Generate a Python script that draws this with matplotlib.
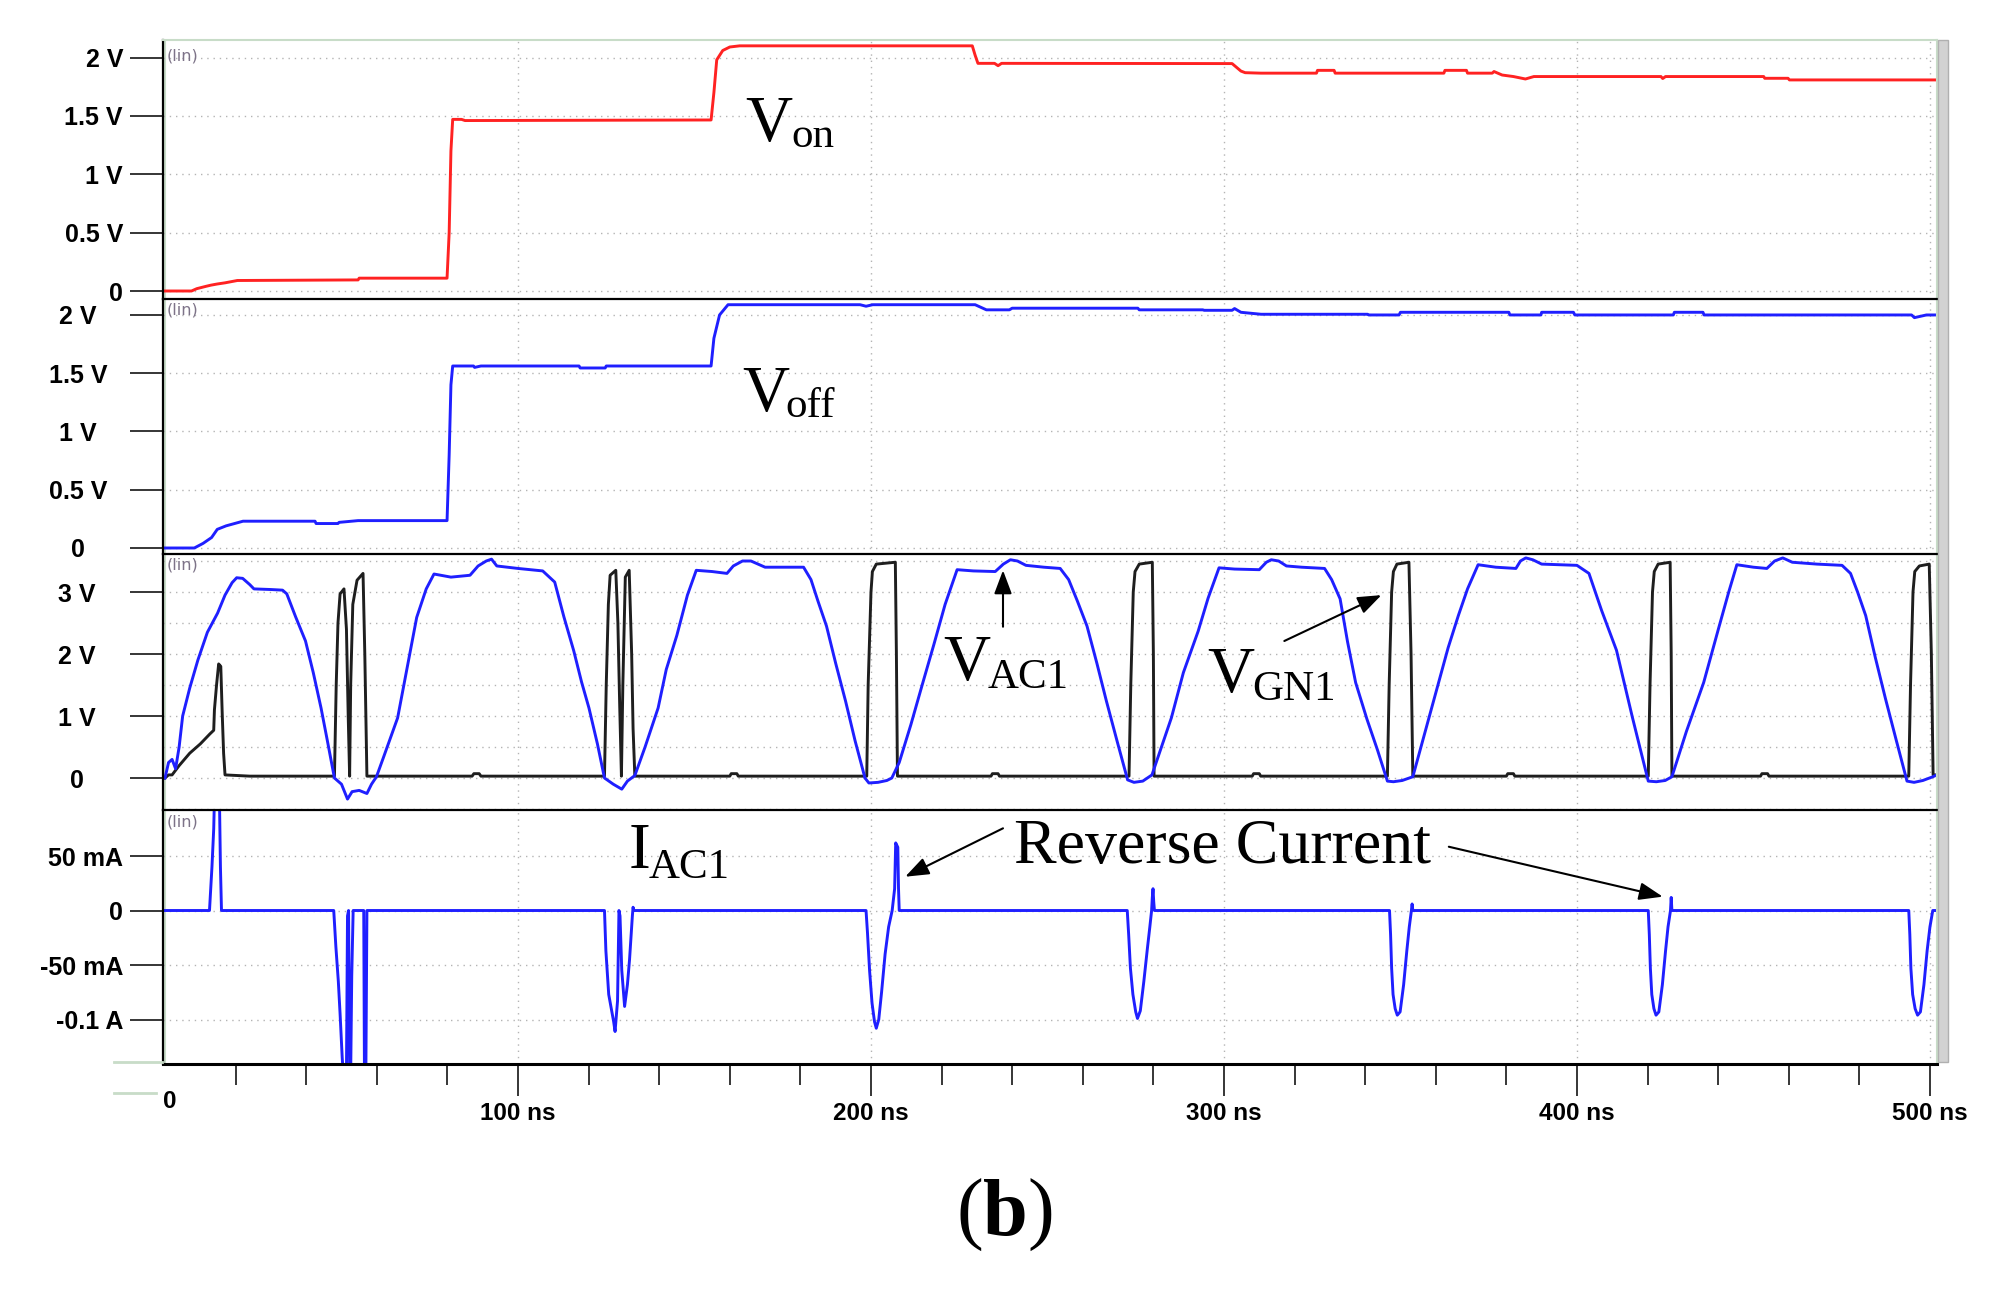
import matplotlib
matplotlib.use('Agg')
import matplotlib.pyplot as plt
from matplotlib.patches import Rectangle
from matplotlib.lines import Line2D

# ---------------- data ----------------
# V_on (panel 1), time in ns, value in V
t_von = [0, 7.5, 9, 11.6, 13, 14.8, 17, 20.5, 54.7, 55, 79.9, 80.5, 81.0, 81.5, 84, 85,
         154.7, 155.5, 156.3, 158, 160, 162.8, 228.7, 229.5, 230.3, 235, 236, 237, 302.3,
         304.8, 306, 310.5, 326.2, 326.5, 331.2, 331.5, 362.3, 362.6, 368.7, 369, 376, 376.5,
         378.8, 382, 385.4, 387.8, 423.8, 424.3, 425.1, 452.9, 453.2, 459.8, 460.2, 502]
v_von = [0, 0, 0.02, 0.04, 0.05, 0.06, 0.07, 0.09, 0.095, 0.11, 0.11, 0.5, 1.2, 1.47, 1.47, 1.46,
         1.465, 1.7, 1.98, 2.06, 2.09, 2.10, 2.10, 2.02, 1.95, 1.95, 1.93, 1.95, 1.948,
         1.884, 1.87, 1.866, 1.866, 1.89, 1.89, 1.866, 1.866, 1.89, 1.89, 1.866, 1.866, 1.88,
         1.85, 1.837, 1.816, 1.837, 1.837, 1.82, 1.837, 1.837, 1.822, 1.822, 1.808, 1.808]

# V_off (panel 2)
t_voff = [0, 8.3, 10.8, 13.2, 14.8, 17.3, 22.1, 42.5, 42.8, 49, 49.3, 54.7, 79.9, 80.5, 81.0,
          81.5, 87.4, 87.7, 89.5, 117.3, 117.6, 124.7, 125.0, 154.7, 155.5, 157.1, 159.5,
          196.9, 198.6, 200.5, 229.5, 232.7, 239.2, 240, 275.6, 276, 294, 294.4, 302.3, 303,
          304.8, 310.5, 340.7, 341, 349.6, 350, 380.7, 381, 389.8, 390, 399, 399.4, 427.3,
          427.6, 435.7, 436, 494.8, 495.6, 499, 502]
v_voff = [0, 0, 0.04, 0.09, 0.16, 0.19, 0.23, 0.23, 0.21, 0.21, 0.22, 0.235, 0.235, 0.8, 1.4,
          1.562, 1.562, 1.55, 1.562, 1.562, 1.545, 1.545, 1.562, 1.562, 1.8, 2.0, 2.088,
          2.088, 2.075, 2.088, 2.088, 2.044, 2.044, 2.058, 2.058, 2.044, 2.044, 2.04, 2.04, 2.055,
          2.023, 2.006, 2.006, 2.0, 2.0, 2.023, 2.023, 2.0, 2.0, 2.023, 2.023, 2.0, 2.0,
          2.023, 2.023, 2.0, 2.0, 1.977, 2.0, 2.0]

# V_AC1 (panel 3, blue)
t_vac1 = [0, 1.0, 2.0, 3.0, 4.0, 5.0, 7.0, 9.3, 12.0, 14.9, 17.0, 19.0, 20.3, 22.0, 24.0, 25.2,
          30.0, 33.3, 34.5, 37.0, 39.8, 42.0, 44.2, 46.0, 48.0, 50.0, 51.7, 53.0, 55.0, 57.2,
          58.5, 59.9, 62.0, 65.9, 69.0, 71.3, 74.0, 76.2, 81.0, 86.4, 88.7, 91.0, 92.5, 94.0,
          100.0, 107.0, 110.4, 113.0, 115.8, 118.0, 120.1, 122.5, 124.5, 127.0, 129.4, 131.0,
          133.1, 136.0, 139.7, 142.0, 145.0, 148.0, 150.5, 155.0, 159.2, 161.0, 163.6, 166.0,
          170.0, 176.0, 180.9, 183.0, 185.0, 187.4, 190.0, 192.8, 195.5, 198.3, 199.4, 202.0,
          204.5, 205.9, 208.0, 211.3, 214.5, 217.8, 221.0, 224.4, 229.0, 235.2, 237.5, 239.5,
          241.5, 243.9, 249.0, 253.6, 256.0, 258.5, 261.2, 264.0, 266.7, 269.7, 272.7, 274.5,
          277.0, 279.6, 282.0, 285.1, 288.5, 292.7, 295.5, 298.6, 303.0, 310.0, 312.0, 313.4,
          315.5, 317.7, 322.0, 328.5, 330.5, 332.9, 335.0, 337.3, 340.5, 343.5, 346.3, 348.0,
          350.5, 353.5, 357.0, 360.8, 363.5, 366.4, 369.0, 372.0, 377.0, 382.7, 384.0, 385.5,
          387.5, 390.0, 395.0, 400.0, 403.4, 407.0, 411.2, 415.7, 418.0, 420.2, 422.5, 425.0,
          426.9, 431.0, 435.9, 440.3, 443.0, 445.3, 450.0, 453.8, 456.0, 458.3, 461.0, 468.0,
          475.1, 477.5, 479.5, 481.8, 484.5, 487.4, 490.5, 493.5, 495.5, 498.0, 500.8, 502.0]
v_vac1 = [0.0, 0.25, 0.3, 0.15, 0.5, 1.0, 1.45, 1.9, 2.35, 2.66, 2.95, 3.15, 3.23, 3.22, 3.12, 3.05,
          3.04, 3.03, 2.97, 2.6, 2.21, 1.7, 1.13, 0.6, 0.0, -0.1, -0.34, -0.22, -0.2, -0.25,
          -0.1, 0.02, 0.35, 0.97, 1.9, 2.59, 3.05, 3.29, 3.24, 3.27, 3.42, 3.5, 3.53, 3.42,
          3.38, 3.34, 3.16, 2.6, 2.05, 1.55, 1.13, 0.55, 0.0, -0.1, -0.18, -0.05,
          0.04, 0.5, 1.13, 1.75, 2.3, 2.95, 3.35, 3.33, 3.3, 3.42, 3.5, 3.5,
          3.4, 3.4, 3.4, 3.2, 2.85, 2.45, 1.85, 1.24, 0.6, 0.0, -0.08, -0.07,
          -0.04, 0.0, 0.25, 0.86, 1.5, 2.15, 2.8, 3.36, 3.34, 3.33, 3.45, 3.52,
          3.5, 3.43, 3.4, 3.38, 3.2, 2.85, 2.45, 1.85, 1.24, 0.6, -0.03, -0.07,
          -0.05, 0.05, 0.45, 0.97, 1.7, 2.37, 2.9, 3.39, 3.37, 3.36, 3.48, 3.52,
          3.5, 3.42, 3.4, 3.38, 3.2, 2.89, 2.2, 1.54, 0.95, 0.45, -0.05, -0.06,
          -0.04, 0.02, 0.75, 1.54, 2.1, 2.62, 3.05, 3.44, 3.4, 3.38, 3.5, 3.55,
          3.52, 3.45, 3.44, 3.43, 3.3, 2.7, 2.06, 0.98, 0.45, -0.05, -0.06, -0.04,
          0.02, 0.75, 1.54, 2.45, 3.0, 3.44, 3.4, 3.38, 3.5, 3.55, 3.48, 3.45,
          3.43, 3.3, 3.0, 2.62, 1.95, 1.28, 0.6, -0.05, -0.07, -0.04, 0.02, 0.05]

# V_GN1 (panel 3, black)
t_vgn1 = [0, 1.0, 2.0, 4.0, 7.0, 10.0, 12.7, 13.8, 14.0, 14.6, 15.2, 15.8, 16.2, 16.6, 17.0, 24.0,
          48.0, 48.5, 49.0, 49.6, 50.7, 51.4, 51.9, 52.3, 52.6, 53.2, 54.4, 56.1, 56.6, 57.2,
          87.0, 87.5, 89.0, 89.5, 124.5, 125.0, 125.6, 126.1, 127.7, 128.3, 128.8, 129.3,
          129.7, 130.4, 131.5, 132.2, 132.6, 133.1, 160.0, 160.4, 162.0, 162.4,
          198.8, 199.2, 200.0, 200.4, 201.5, 206.9, 207.2, 207.5, 234.0, 234.4, 236.0, 236.4,
          273.1, 273.6, 274.3, 274.8, 276.0, 279.7, 280.0, 280.2, 308.0, 308.4, 310.0, 310.4,
          346.3, 346.8, 347.5, 348.0, 349.0, 352.4, 353.0, 353.5, 380.0, 380.4, 382.0, 382.4,
          420.2, 420.7, 421.4, 421.9, 423.0, 426.4, 426.7, 426.9, 452.0, 452.4, 454.0, 454.4,
          494.0, 494.5, 495.2, 495.7, 497.0, 499.8, 500.4, 500.9, 502.0]
v_vgn1 = [0.0, 0.05, 0.05, 0.2, 0.4, 0.55, 0.71, 0.77, 1.1, 1.5, 1.84, 1.8, 1.05, 0.4, 0.05, 0.03,
          0.03, 1.5, 2.5, 2.97, 3.05, 2.4, 1.0, 0.03, 1.5, 2.8, 3.19, 3.3, 2.0, 0.03,
          0.03, 0.07, 0.07, 0.03, 0.03, 1.5, 2.8, 3.27, 3.35, 2.5, 1.2, 0.03,
          1.5, 3.24, 3.35, 2.0, 0.8, 0.03, 0.03, 0.07, 0.07, 0.03,
          0.03, 1.5, 3.0, 3.33, 3.45, 3.48, 2.0, 0.03, 0.03, 0.07, 0.07, 0.03,
          0.03, 1.5, 3.0, 3.33, 3.45, 3.48, 2.0, 0.03, 0.03, 0.07, 0.07, 0.03,
          0.03, 1.5, 3.0, 3.33, 3.45, 3.48, 2.0, 0.03, 0.03, 0.07, 0.07, 0.03,
          0.03, 1.5, 3.0, 3.33, 3.45, 3.48, 2.0, 0.03, 0.03, 0.07, 0.07, 0.03,
          0.03, 1.5, 3.0, 3.33, 3.42, 3.45, 2.0, 0.05, 0.05]

# I_AC1 (panel 4, mA)
t_iac1 = [0, 12.6, 13.3, 13.8, 14.2, 15.3, 15.7, 16.0,
          47.8, 48.4, 49.1, 49.6, 50.2, 50.5, 51.4, 51.7, 52.0, 52.3, 52.6, 52.9, 53.3,
          56.3, 56.5, 56.9, 57.2,
          124.5, 124.9, 125.7, 127.1, 127.5, 128.2, 128.6, 128.9, 129.4, 130.2, 131.0, 131.6,
          132.4, 132.6, 132.8,
          198.6, 199.0, 199.6, 200.3, 201.0, 201.5, 202.2, 203.0, 204.0, 205.0, 206.0, 206.7,
          207.0, 207.6, 207.8, 208.0,
          272.6, 273.0, 273.5, 274.2, 275.0, 275.5, 276.3, 277.3, 278.3, 279.0, 279.5, 279.7,
          279.9, 280.1, 280.3,
          346.9, 347.2, 347.5, 347.9, 348.5, 349.1, 349.9, 350.9, 351.8, 352.5, 353.1, 353.3,
          353.5,
          420.2, 420.5, 420.8, 421.2, 421.8, 422.4, 423.2, 424.2, 425.1, 425.8, 426.5, 426.7,
          426.9,
          494.0, 494.3, 494.6, 495.1, 495.8, 496.5, 497.3, 498.3, 499.2, 500.0, 500.8, 502.0]
i_iac1 = [0, 0, 40, 75, 130, 130, 40, 0,
          0, -33, -65, -95, -135, -150, -150, -5, 0, -150, -150, -60, 0,
          0, -150, -150, 0,
          0, -37, -77, -102, -111, -83, 0, -5, -55, -88, -68, -45,
          -5, 3, 0,
          0, -20, -55, -85, -102, -108, -100, -75, -40, -15, 0, 20,
          62, 58, 20, 0,
          0, -22, -53, -77, -93, -99, -92, -65, -35, -15, 0, 12,
          20, 8, 0,
          0, -22, -53, -77, -90, -96, -93, -68, -37, -15, 0, 6,
          0,
          0, -22, -53, -77, -90, -96, -93, -68, -37, -15, 0, 12,
          0,
          0, -22, -53, -77, -90, -96, -93, -68, -37, -15, 0, 0]

# tick values / labels
von_ticks = [0, 0.5, 1, 1.5, 2]
von_labels = ['0', '0.5 V', '1 V', '1.5 V', '2 V']
voff_ticks = [0, 0.5, 1, 1.5, 2]
voff_labels = ['0', '0.5 V', '1 V', '1.5 V', '2 V']
v3_ticks = [0, 1, 2, 3]
v3_labels = ['0', '1 V', '2 V', '3 V']
i_ticks = [-100, -50, 0, 50]
i_labels = ['-0.1 A', '-50 mA', '0', '50 mA']
x_ticks = [100, 200, 300, 400, 500]
x_labels = ['100 ns', '200 ns', '300 ns', '400 ns', '500 ns']
x_minor = [20, 40, 60, 80, 120, 140, 160, 180, 220, 240, 260, 280, 320, 340, 360, 380,
           420, 440, 460, 480]

# ---------------- layout ----------------
W, H = 2000, 1292
fig = plt.figure(figsize=(20, 12.92), dpi=100)
XMIN, XMAX = -0.57, 502.0
LEFT, RIGHT = 163, 1937

def add_ax(top, bottom):
    return fig.add_axes([LEFT / W, 1 - bottom / H, (RIGHT - LEFT) / W, (bottom - top) / H])

ax1 = add_ax(40, 299)
ax2 = add_ax(299, 554)
ax3 = add_ax(554, 810)
ax4 = add_ax(810, 1064)

GREEN = '#c8dcc8'
GRID = '#b4b4b4'
TICKFONT = dict(family='Liberation Sans', weight='bold', size=18)

def setup(ax, ylim, yticks, ylabels, ystep, ha, pad, top_black=True, lin_dy=13):
    ax.set_xlim(XMIN, XMAX)
    ax.set_ylim(*ylim)
    ax.set_yticks(yticks)
    ax.set_yticklabels(ylabels, **TICKFONT)
    grid_vals = []
    v = ystep * int(ylim[0] / ystep)
    while v <= ylim[1]:
        grid_vals.append(round(v, 6))
        v += ystep
    ax.set_yticks(grid_vals, minor=True)
    ax.tick_params(axis='y', which='major', length=23.8, width=1.1, direction='out', pad=pad,
                   color='black')
    ax.tick_params(axis='y', which='minor', length=0)
    for lbl in ax.get_yticklabels():
        lbl.set_horizontalalignment(ha)
    ax.set_xticks(x_ticks)
    ax.set_xticks(x_minor, minor=True)
    ax.tick_params(axis='x', which='both', length=0, labelbottom=False)
    ax.grid(True, axis='y', which='both', color=GRID, lw=1.0, linestyle=(0, (1, 3.5)))
    ax.grid(True, axis='x', which='major', color=GRID, lw=1.0, linestyle=(0, (1, 3.5)))
    ax.set_axisbelow(True)
    for s in ax.spines.values():
        s.set_visible(False)
    ax.spines['left'].set_visible(True)
    ax.spines['left'].set_color('black')
    ax.spines['left'].set_linewidth(1.6)
    ax.spines['right'].set_visible(True)
    ax.spines['right'].set_color(GREEN)
    ax.spines['right'].set_linewidth(1.5)
    ax.spines['top'].set_visible(True)
    if top_black:
        ax.spines['top'].set_color('black')
        ax.spines['top'].set_linewidth(1.6)
    else:
        ax.spines['top'].set_color(GREEN)
        ax.spines['top'].set_linewidth(1.5)
    ax.patch.set_facecolor('white')
    ax.text(0.002, 1 - lin_dy / (ax.bbox.height), '(lin)', transform=ax.transAxes,
            fontsize=11.5, color='#7d7388', family='DejaVu Sans', ha='left', va='center')
    # faint light-green inner band along the left edge
    ax.axvline(XMIN + 0.6, color=GREEN, lw=1.5, zorder=0.5)

setup(ax1, (-0.0685, 2.15), von_ticks, von_labels, 0.5, 'right', 5, top_black=False, lin_dy=16)
setup(ax2, (-0.0515, 2.137), voff_ticks, voff_labels, 0.5, 'center', 37.4, lin_dy=11)
setup(ax3, (-0.516, 3.613), v3_ticks, v3_labels, 0.5, 'center', 38.5, lin_dy=11)
setup(ax4, (-140.8, 92.2), i_ticks, i_labels, 50, 'right', 5, lin_dy=12)

# x axis on bottom panel
ax4.spines['bottom'].set_visible(True)
ax4.spines['bottom'].set_color('black')
ax4.spines['bottom'].set_linewidth(2.2)
ax4.set_xticks(x_ticks)
ax4.set_xticklabels(x_labels, family='Liberation Sans', weight='bold', size=17.5)
ax4.tick_params(axis='x', which='major', length=23, width=1.1, direction='out', pad=4,
                labelbottom=True, color='black')
ax4.tick_params(axis='x', which='minor', length=15, width=1.1, direction='out', color='black')
ax4.text(XMIN, -0.146, '0', transform=ax4.get_xaxis_transform(), ha='left', va='center',
         family='Liberation Sans', weight='bold', size=17.5)

# ---------------- traces ----------------
LW = 2.1
ax1.plot(t_von, v_von, color='#ff2222', lw=LW)
ax2.plot(t_voff, v_voff, color='#1f1fff', lw=LW)
ax3.plot(t_vgn1, v_vgn1, color='#1e1e1e', lw=LW)
ax3.plot(t_vac1, v_vac1, color='#1f1fff', lw=LW)
ax4.plot(t_iac1, i_iac1, color='#1f1fff', lw=LW)

# ---------------- annotations ----------------
SERIF = 'Liberation Serif'
BIG = 47
SUB = 31

def label(ax, t, v, main, ts, vs, sub, size=BIG, subsize=SUB):
    ax.text(t, v, main, family=SERIF, fontsize=size, ha='left', va='baseline')
    ax.text(ts, vs, sub, family=SERIF, fontsize=subsize, ha='left', va='baseline')

label(ax1, 164.4, 1.289, 'V', 177.5, 1.233, 'on')
label(ax2, 163.6, 1.18, 'V', 175.8, 1.12, 'off')
label(ax3, 220.5, 1.58, 'V', 233.0, 1.45, 'AC1')
label(ax3, 295.4, 1.39, 'V', 307.9, 1.26, 'GN1')
label(ax4, 131.2, 38.7, 'I', 137.0, 29.5, 'AC1')
ax4.text(240.5, 43.3, 'Reverse Current', family=SERIF, fontsize=46, ha='left', va='baseline')

ARROW = dict(arrowstyle='-|>,head_length=0.4,head_width=0.15', mutation_scale=36,
             color='black', lw=1.5, shrinkA=0, shrinkB=0)
ax3.annotate('', xy=(237.4, 3.35), xytext=(237.4, 2.44), arrowprops=ARROW)
ax3.annotate('', xy=(344.6, 2.95), xytext=(317.1, 2.21), arrowprops=ARROW)
ax4.annotate('', xy=(209.7, 31.0), xytext=(237.4, 75.4), arrowprops=ARROW)
ax4.annotate('', xy=(424.3, 12.7), xytext=(363.7, 58.5), arrowprops=ARROW)

# ---------------- decorations ----------------
fig.add_artist(Rectangle((1938 / W, 1 - 1062 / H), 10 / W, (1062 - 40) / H,
                         transform=fig.transFigure, facecolor='#d2d2d2',
                         edgecolor='#b0b0b0', lw=1))
fig.add_artist(Line2D([114 / W, 162 / W], [1 - 1062 / H] * 2, color=GREEN, lw=2,
                      transform=fig.transFigure))
fig.add_artist(Line2D([114 / W, 156 / W], [1 - 1093 / H] * 2, color=GREEN, lw=2,
                      transform=fig.transFigure))

# caption (b)
yb = 1 - 1235 / H
fig.text(957 / W, yb, '(', family=SERIF, fontsize=58, ha='left', va='baseline')
fig.text(983 / W, yb, 'b', family=SERIF, fontsize=58, weight='bold', ha='left', va='baseline')
fig.text(1027 / W, yb, ')', family=SERIF, fontsize=58, ha='left', va='baseline')

fig.savefig('out.png', dpi=100, facecolor='white')
